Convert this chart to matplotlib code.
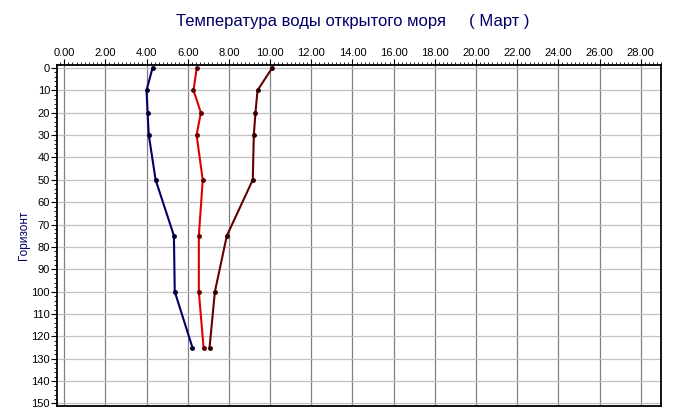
import matplotlib
matplotlib.use("Agg")
import matplotlib.pyplot as plt
from matplotlib.ticker import MultipleLocator, FormatStrFormatter

# depth horizons and temperatures for three series
depth = [0, 10, 20, 30, 50, 75, 100, 125]
temp_min = [4.29, 4.00, 4.05, 4.11, 4.44, 5.33, 5.37, 6.23]
temp_mid = [6.44, 6.28, 6.64, 6.43, 6.73, 6.54, 6.54, 6.77]
temp_max = [10.10, 9.39, 9.29, 9.21, 9.16, 7.90, 7.32, 7.06]

title = "Температура воды открытого моря     ( Март )"
ylabel = "Горизонт"

plt.rcParams['font.family'] = ['Liberation Sans', 'DejaVu Sans']

fig = plt.figure(figsize=(6.75, 4.19), dpi=100)
ax = fig.add_axes([0.0844, 0.0317, 0.8953, 0.8125])

# grid: vertical darker, horizontal lighter
ax.xaxis.set_major_locator(MultipleLocator(2))
ax.xaxis.set_minor_locator(MultipleLocator(0.2))
ax.yaxis.set_major_locator(MultipleLocator(10))
ax.yaxis.set_minor_locator(MultipleLocator(2))
ax.xaxis.grid(True, which='major', color='#808080', lw=0.9)
ax.yaxis.grid(True, which='major', color='#c0c0c0', lw=0.9)
ax.set_axisbelow(True)

ax.plot(temp_min, depth, color='#000066', lw=1.5, marker='o', ms=2.5, mfc='#000033', mec='#000033')
ax.plot(temp_mid, depth, color='#e00000', lw=1.5, marker='o', ms=2.5, mfc='#600000', mec='#600000')
ax.plot(temp_max, depth, color='#660000', lw=1.5, marker='o', ms=2.5, mfc='#300000', mec='#300000')

ax.set_xlim(-0.35, 29.0)
ax.set_ylim(151, -1.2)

ax.xaxis.tick_top()
ax.xaxis.set_major_formatter(FormatStrFormatter('%.2f'))
ax.tick_params(axis='x', which='major', length=4, width=0.8, labelsize=8, pad=1)
ax.tick_params(axis='x', which='minor', length=2.5, width=0.6)
ax.tick_params(axis='y', which='major', length=4, width=0.8, labelsize=8, pad=1)
ax.tick_params(axis='y', which='minor', length=2.5, width=0.6)
for s in ax.spines.values():
    s.set_color('black')
    s.set_linewidth(1.3)

ax.set_ylabel(ylabel, color='#000066', fontsize=8.5, labelpad=1)
fig.text(0.522, 0.948, title, ha='center', va='center', color='#000066', fontsize=12)

fig.savefig("out.png", dpi=100)
